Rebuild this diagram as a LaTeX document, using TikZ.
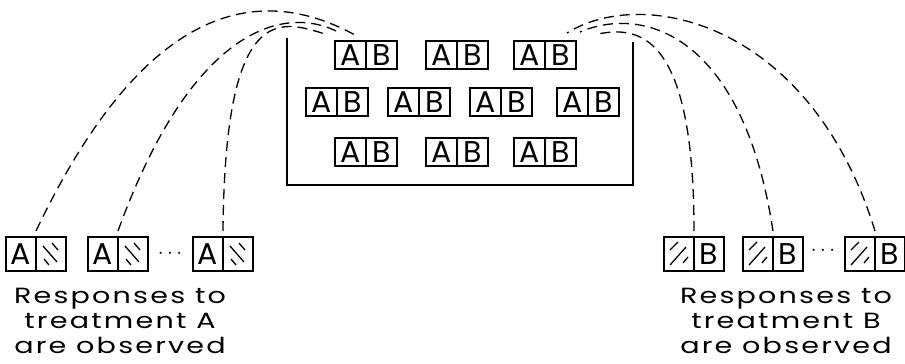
\documentclass[tikz,border=0pt]{standalone}
\usepackage{fontspec}
\setsansfont{Poppins}
\newfontfamily\letterfont{Poppins}[LetterSpace=10, FakeStretch=1.3]
\usetikzlibrary{positioning}

\begin{document}
\begin{tikzpicture}[x=1pt, y=-1pt, line width=1pt]
	\tikzset{cell/.style={rectangle, draw, line width=1.4pt, minimum width=31pt, minimum height=28pt, inner sep=0pt, outer sep=0pt, font=\sffamily\fontsize{30}{30}\selectfont}}
	\tikzset{bigcell/.style={cell, minimum width=30pt, minimum height=34pt}}
	\tikzset{hatchback/.style={path picture={
		\draw[line width=1.3pt] ([shift={(1pt,11pt)}]path picture bounding box.center) -- ++(6pt,-7pt);
		\draw[line width=1.3pt] ([shift={(-8pt,8pt)}]path picture bounding box.center) -- ++(14pt,-16pt);
		\draw[line width=1.3pt] ([shift={(-7pt,-5pt)}]path picture bounding box.center) -- ++(5pt,-6pt);
	}}}
	\tikzset{hatchfwd/.style={path picture={
		\draw[line width=1.3pt] ([shift={(-9pt,4pt)}]path picture bounding box.center) -- ++(8pt,8pt);
		\draw[line width=1.3pt] ([shift={(-9pt,-11pt)}]path picture bounding box.center) -- ++(16pt,18pt);
		\draw[line width=1.3pt] ([shift={(4pt,-9pt)}]path picture bounding box.center) -- ++(5pt,6pt);
	}}}
	\tikzset{link/.style={dash pattern=on 10pt off 6pt, line width=1.3pt}}
	\tikzset{resp/.style={align=center, inner sep=0pt, font=\letterfont\fontsize{22}{25}\selectfont}}

	\useasboundingbox (0,0) rectangle (905,364);

	% pairs in the container
	\foreach \n/\x/\y in {r11/366/55, r12/457/55, r13/545/55,
		r21/337/102, r22/419/102, r23/501/102, r24/588/102,
		r31/366/152, r32/457/152, r33/545/152} {
		\node[cell, anchor=east] (\n-a) at (\x,\y) {A};
		\node[cell, right=0pt of \n-a] (\n-b) {B};
	}
	\draw[line width=1.2pt] (287,38) |- (633,185) -- (633,42);

	% responses to A
	\foreach \n/\x in {ra1/36, ra2/118, ra3/223} {
		\node[bigcell, anchor=east] (\n-a) at (\x,254) {A};
		\node[bigcell, hatchback, right=0pt of \n-a] (\n-b) {};
	}
	\node (dotsa) at (170,254) {\fontsize{20}{20}\selectfont$\cdots$};

	% responses to B
	\foreach \n/\x in {rb1/694, rb2/773, rb3/875} {
		\node[bigcell, hatchfwd, anchor=east] (\n-a) at (\x,254) {};
		\node[bigcell, right=0pt of \n-a] (\n-b) {B};
	}
	\node (dotsb) at (823,251) {\fontsize{20}{20}\selectfont$\cdots$};

	\node[resp] (respa) at (120,321) {Responses to\\treatment A\\are observed};
	\node[resp] (respb) at (786,321) {Responses to\\treatment B\\are observed};

	\draw[link] ([yshift=6pt]ra1-a.north east) .. controls (149,-6) and (265,-14) .. ([shift={(20pt,6pt)}]r11-a.north west);
	\draw[link] ([yshift=6pt]ra2-a.north east) .. controls (193,24) and (287,4) .. ([shift={(5pt,8pt)}]r11-a.north west);
	\draw[link] ([yshift=6pt]ra3-a.north east) .. controls (225,1) and (280,20) .. ([shift={(-10pt,7pt)}]r11-a.north west);

	\draw[link] ([yshift=6pt]rb3-a.north east) .. controls (811,23) and (644,-15) .. ([shift={(-9pt,8pt)}]r13-b.north east);
	\draw[link] ([yshift=6pt]rb2-a.north east) .. controls (743,34) and (643,5) .. ([shift={(4pt,9pt)}]r13-b.north east);
	\draw[link] ([yshift=6pt]rb1-a.north east) .. controls (694,32) and (638,26) .. ([shift={(22pt,7pt)}]r13-b.north east);
\end{tikzpicture}
\end{document}
